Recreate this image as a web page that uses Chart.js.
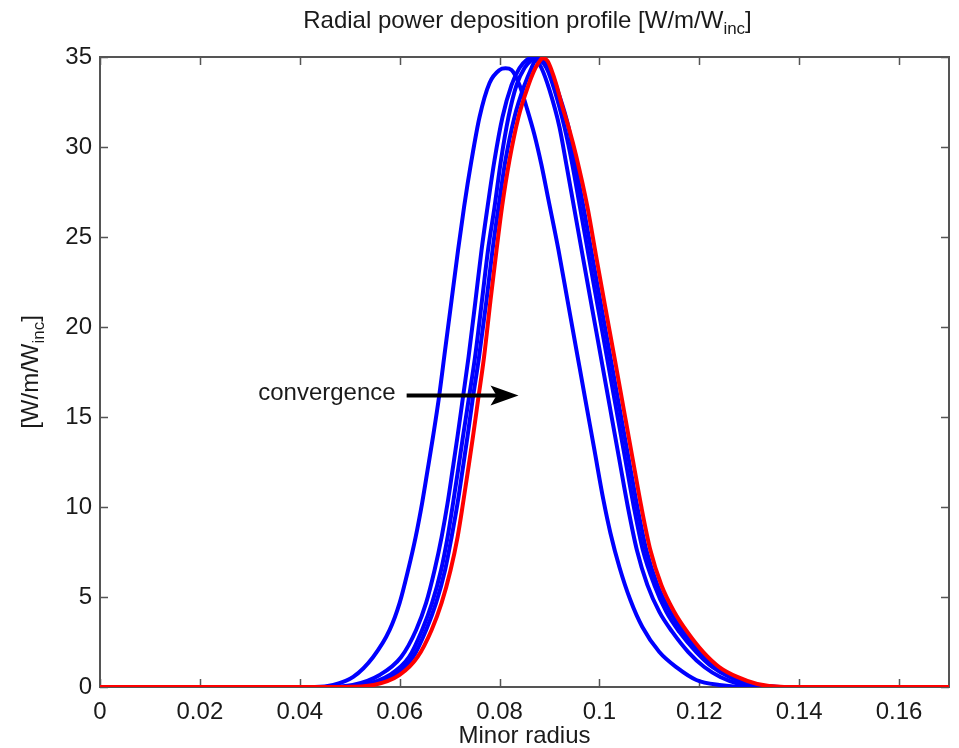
<!DOCTYPE html>
<html>
<head>
<meta charset="utf-8">
<script src="https://cdn.jsdelivr.net/npm/chart.js@4.4.1/dist/chart.umd.min.js"></script>
<style>
  html, body { margin: 0; padding: 0; background: #fff; }
  #chart { display: block; }
</style>
</head>
<body>
<canvas id="chart" width="959" height="748"></canvas>
<script>
// tick values
const xTicks = [0, 0.02, 0.04, 0.06, 0.08, 0.1, 0.12, 0.14, 0.16];
const yTicks = [0, 5, 10, 15, 20, 25, 30, 35];

// iteration 1 (leftmost blue), full profile
const run1X = [0, 0.043, 0.0467, 0.0507, 0.0547, 0.058, 0.06, 0.0617, 0.0632, 0.0645,
  0.0656, 0.0667, 0.0678, 0.0691, 0.0704, 0.0717, 0.0729, 0.0744, 0.076, 0.078,
  0.08, 0.0812, 0.0824, 0.084, 0.0854, 0.087, 0.0884, 0.0898, 0.0918, 0.0936,
  0.0954, 0.0972, 0.099, 0.1008, 0.1022, 0.104, 0.1062, 0.1086, 0.112, 0.1156,
  0.1194, 0.124, 0.13, 0.17];
const run1Y = [0, 0, 0.11, 0.56, 1.67, 3.17, 4.67, 6.5, 8.33, 10.22,
  12.06, 13.94, 15.94, 18.72, 21.5, 24.28, 26.67, 29.28, 31.67, 33.56,
  34.28, 34.37, 34.28, 33.44, 32.22, 30.67, 29.0, 27.06, 24.28, 21.5,
  18.72, 15.94, 13.17, 10.39, 8.56, 6.67, 4.83, 3.33, 1.94, 1.06,
  0.39, 0.11, 0, 0];

// levels at which the later profiles were read (rising / falling flank)
const riseY = [0, 0.11, 0.67, 1.67, 3.17, 4.67, 6.5, 8.33, 10.22, 12.06,
  13.94, 15.94, 18.33, 21.5, 24.28, 26.67, 29.28, 31.67, 33.44, 34.39, 34.83, 34.94];
const fallY = [34.83, 34.39, 33.17, 31.11, 29.0, 26.67, 23.72, 20.94, 18.33, 15.39,
  12.61, 10.0, 7.61, 5.67, 4.17, 3.06, 1.94, 1.11, 0.56, 0.17, 0];

// iteration 2
const run2Rise = [0.045, 0.0506, 0.056, 0.0603, 0.0633, 0.0653, 0.067, 0.0684, 0.0696, 0.0706,
  0.0716, 0.0726, 0.0738, 0.0752, 0.0764, 0.0776, 0.079, 0.0806, 0.0824, 0.084, 0.0854, 0.0864];
const run2Fall = [0.0874, 0.0884, 0.09, 0.092, 0.0934, 0.0949, 0.0968, 0.0986, 0.1003, 0.1022,
  0.104, 0.1057, 0.1075, 0.1096, 0.112, 0.1146, 0.1178, 0.121, 0.1242, 0.128, 0.133];

// iteration 3
const run3Rise = [0.047, 0.0526, 0.058, 0.0619, 0.0645, 0.0665, 0.0683, 0.0696, 0.0707, 0.0717,
  0.0727, 0.0738, 0.0751, 0.0765, 0.0777, 0.079, 0.0803, 0.0818, 0.0834, 0.085, 0.0864, 0.0874];
const run3Fall = [0.0882, 0.0894, 0.091, 0.093, 0.0946, 0.0961, 0.098, 0.0998, 0.1015, 0.1034,
  0.1052, 0.1069, 0.1087, 0.111, 0.1134, 0.116, 0.1194, 0.1226, 0.126, 0.13, 0.1354];

// iteration 4
const run4Rise = [0.048, 0.0538, 0.059, 0.0627, 0.0653, 0.0673, 0.0691, 0.0704, 0.0716, 0.0726,
  0.0736, 0.0746, 0.0759, 0.0774, 0.0786, 0.0798, 0.0812, 0.083, 0.085, 0.0864, 0.0872, 0.088];
const run4Fall = [0.0888, 0.09, 0.0916, 0.0938, 0.0952, 0.0968, 0.0987, 0.1005, 0.1022, 0.1041,
  0.1059, 0.1076, 0.1094, 0.1116, 0.1142, 0.1168, 0.1202, 0.1234, 0.1268, 0.1308, 0.1362];

// converged profile (red)
const finalRise = [0.049, 0.0548, 0.06, 0.0636, 0.0664, 0.0684, 0.0702, 0.0716, 0.0727, 0.0737,
  0.0747, 0.0757, 0.0769, 0.0782, 0.0794, 0.0805, 0.082, 0.0838, 0.0858, 0.0872, 0.0882, 0.0886];
const finalFall = [0.0896, 0.0904, 0.0914, 0.0926, 0.094, 0.0954, 0.0976, 0.0993, 0.1011, 0.103,
  0.1049, 0.1067, 0.1084, 0.1102, 0.1124, 0.115, 0.1176, 0.1208, 0.124, 0.1276, 0.1316, 0.137];
const finalFallY = [34.78, 34.28, 33.44, 32.22, 30.94, 29.44, 26.67, 24.0, 21.22, 18.33,
  15.39, 12.61, 10.0, 7.61, 5.67, 4.17, 3.06, 1.94, 1.11, 0.56, 0.17, 0];

// annotation, in data units
const noteText = "convergence";
const noteAt = { x: 0.0592, y: 16.3 };
const arrowFrom = { x: 0.0614, y: 16.2 };
const arrowTo = { x: 0.0838, y: 16.2 };

const FONT = "'Liberation Sans', Arial, Helvetica, sans-serif";
const INK = "#1a1a1a";

function pts(xs, ys) {
  return xs.map((x, i) => ({ x: x, y: ys[i] }));
}

// flat zero line on both sides of a profile
function profile(rise, fall, rY, fY) {
  return pts([0].concat(rise, fall, [0.17]), [0].concat(rY, fY, [0]));
}

function curve(data, color) {
  return {
    data: data,
    showLine: true,
    borderColor: color,
    backgroundColor: color,
    borderWidth: 4,
    pointRadius: 0,
    pointHoverRadius: 0,
    cubicInterpolationMode: "monotone",
    fill: false
  };
}

// text with a subscript part: parts = [[text, sub?], ...]
function richWidth(ctx, parts, size, subSize) {
  let w = 0;
  parts.forEach(p => {
    ctx.font = (p[1] ? subSize : size) + "px " + FONT;
    w += ctx.measureText(p[0]).width;
  });
  return w;
}
function drawRich(ctx, parts, cx, cy, size, subSize, subDrop) {
  const w = richWidth(ctx, parts, size, subSize);
  let x = cx - w / 2;
  ctx.textAlign = "left";
  ctx.textBaseline = "middle";
  parts.forEach(p => {
    ctx.font = (p[1] ? subSize : size) + "px " + FONT;
    ctx.fillText(p[0], x, cy + (p[1] ? subDrop : 0));
    x += ctx.measureText(p[0]).width;
  });
}

const framePlugin = {
  id: "frame",
  beforeDatasetsDraw(chart) {
    const ctx = chart.ctx;
    const a = chart.chartArea;
    const xs = chart.scales.x, ys = chart.scales.y;
    ctx.save();
    ctx.strokeStyle = "#555";
    ctx.lineWidth = 2;
    ctx.strokeRect(a.left, a.top, a.right - a.left, a.bottom - a.top);
    ctx.lineWidth = 1.5;
    ctx.beginPath();
    xTicks.forEach(v => {
      const px = Math.round(xs.getPixelForValue(v)) + 0.5;
      ctx.moveTo(px, a.bottom); ctx.lineTo(px, a.bottom - 8);
      ctx.moveTo(px, a.top); ctx.lineTo(px, a.top + 8);
    });
    yTicks.forEach(v => {
      const py = Math.round(ys.getPixelForValue(v)) + 0.5;
      ctx.moveTo(a.left, py); ctx.lineTo(a.left + 8, py);
      ctx.moveTo(a.right, py); ctx.lineTo(a.right - 8, py);
    });
    ctx.stroke();
    ctx.restore();
  },
  afterDraw(chart) {
    const ctx = chart.ctx;
    const a = chart.chartArea;
    const xs = chart.scales.x, ys = chart.scales.y;
    ctx.save();
    ctx.fillStyle = INK;

    // title
    drawRich(ctx, [["Radial power deposition profile [W/m/W", false], ["inc", true], ["]", false]],
      (a.left + a.right) / 2 + 3, 21, 24, 17, 8);

    // x title
    ctx.font = "24px " + FONT;
    ctx.textAlign = "center";
    ctx.textBaseline = "middle";
    ctx.fillText("Minor radius", (a.left + a.right) / 2, 736);

    // y title, rotated
    ctx.save();
    ctx.translate(31, (a.top + a.bottom) / 2);
    ctx.rotate(-Math.PI / 2);
    drawRich(ctx, [["[W/m/W", false], ["inc", true], ["]", false]], 0, 0, 24, 17, 8);
    ctx.restore();

    // annotation
    ctx.font = "24px " + FONT;
    ctx.textAlign = "right";
    ctx.textBaseline = "middle";
    ctx.fillText(noteText, xs.getPixelForValue(noteAt.x), ys.getPixelForValue(noteAt.y));

    const x0 = xs.getPixelForValue(arrowFrom.x), y0 = ys.getPixelForValue(arrowFrom.y);
    const x1 = xs.getPixelForValue(arrowTo.x);
    ctx.strokeStyle = "#000";
    ctx.fillStyle = "#000";
    ctx.lineWidth = 4;
    ctx.beginPath();
    ctx.moveTo(x0, y0);
    ctx.lineTo(x1 - 18, y0);
    ctx.stroke();
    ctx.beginPath();
    ctx.moveTo(x1, y0);
    ctx.lineTo(x1 - 28, y0 - 10);
    ctx.lineTo(x1 - 22, y0);
    ctx.lineTo(x1 - 28, y0 + 10);
    ctx.closePath();
    ctx.fill();
    ctx.restore();
  }
};

new Chart(document.getElementById("chart"), {
  type: "scatter",
  data: {
    datasets: [
      curve(profile(finalRise, finalFall, riseY, finalFallY), "#ff0000"),
      curve(profile(run4Rise, run4Fall, riseY, fallY), "#0000ff"),
      curve(profile(run3Rise, run3Fall, riseY, fallY), "#0000ff"),
      curve(profile(run2Rise, run2Fall, riseY, fallY), "#0000ff"),
      curve(pts(run1X, run1Y), "#0000ff")
    ]
  },
  options: {
    responsive: false,
    animation: false,
    devicePixelRatio: 1,
    layout: { padding: { left: 0, right: 10, top: 57, bottom: 0 } },
    plugins: {
      legend: { display: false },
      title: { display: false },
      tooltip: { enabled: false }
    },
    events: [],
    scales: {
      x: {
        type: "linear",
        min: 0,
        max: 0.17,
        grid: { display: false, drawTicks: false },
        border: { display: false },
        afterBuildTicks: s => { s.ticks = xTicks.map(v => ({ value: v })); },
        afterFit: s => { s.height = 61; },
        ticks: {
          padding: 11,
          color: INK,
          font: { family: FONT, size: 24 },
          maxRotation: 0,
          callback: v => String(Number(v.toFixed(2)))
        }
      },
      y: {
        type: "linear",
        min: 0,
        max: 35,
        grid: { display: false, drawTicks: false },
        border: { display: false },
        afterBuildTicks: s => { s.ticks = yTicks.map(v => ({ value: v })); },
        afterFit: s => { s.width = 100; },
        ticks: {
          padding: 8,
          color: INK,
          font: { family: FONT, size: 24 },
          callback: v => String(v)
        }
      }
    }
  },
  plugins: [framePlugin]
});
</script>
</body>
</html>
